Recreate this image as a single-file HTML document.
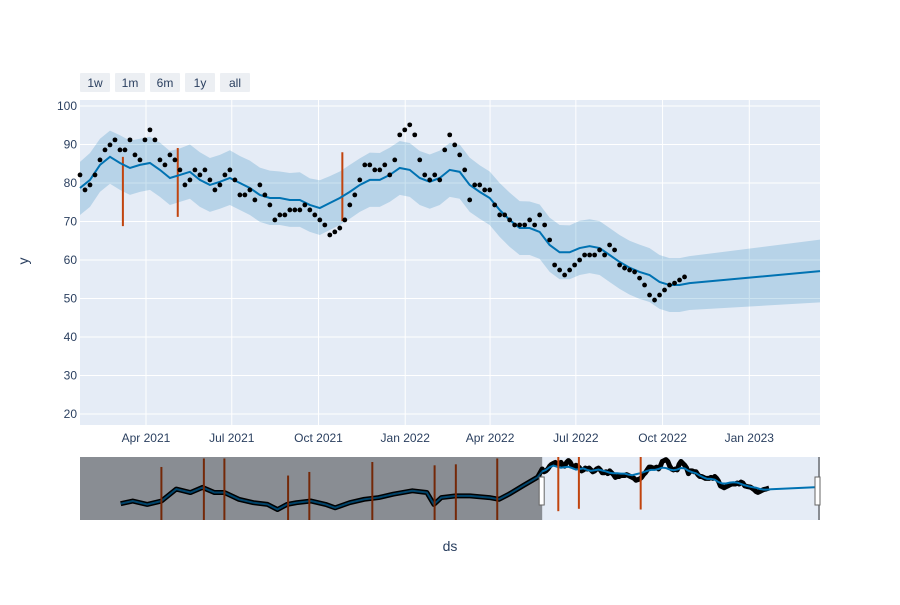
<!DOCTYPE html>
<html><head><meta charset="utf-8"><style>
body{margin:0;background:#fff;font-family:"Liberation Sans",sans-serif}
svg text{font-family:"Liberation Sans",sans-serif;fill:#2a3f5f}
</style></head><body>
<svg id="c" width="900" height="600" viewBox="0 0 900 600" xmlns="http://www.w3.org/2000/svg">
<rect x="80" y="100" width="740" height="325" fill="#E5ECF6"/>
<g id="grid"></g>
<g id="band"></g>
<g id="cps"></g>
<g id="trend"></g>
<g id="obs"></g>
<g id="yticks"></g>
<g id="xticks"></g>
<text x="28" y="261" font-size="14" text-anchor="middle" transform="rotate(-90 28 261)">y</text>
<text x="450" y="551" font-size="14" text-anchor="middle">ds</text>
<g id="buttons"></g>
<g id="slider">
<rect x="80" y="457" width="740" height="63" fill="#E5ECF6"/>
</g>
</svg>
<script>
const obsVals=[82.1,78.2,79.5,82.1,86,88.6,89.9,91.2,88.6,88.6,91.2,87.3,86,91.2,93.8,91.2,86,84.7,87.3,86,83.4,79.5,80.8,83.4,82.1,83.4,80.8,78.2,79.5,82.1,83.4,80.8,76.9,76.9,78.2,75.6,79.5,76.9,74.3,70.4,71.7,71.7,73,73,73,74.3,73,71.7,70.4,69.1,66.5,67.3,68.3,70.4,74.3,76.9,80.8,84.7,84.7,83.4,83.4,84.7,82.1,86,92.5,93.8,95.1,92.5,86,82.1,80.8,82.1,80.8,88.6,92.5,89.9,87.3,83.4,75.6,79.5,79.5,78.2,78.2,74.3,71.7,71.7,70.4,69.1,69.1,69.1,70.4,69.1,71.7,69.1,65.2,58.7,57.4,56.1,57.4,58.7,60,61.3,61.3,61.3,62.6,61.3,63.9,62.6,58.7,57.9,57.4,56.9,55.3,53.5,50.9,49.6,50.9,52.2,53.5,54,54.8,55.6];
const obsStepDays=5.3;
const trendVals=[78.7,80.8,84.7,86.8,85.2,83.9,84.7,85.2,83.4,81.3,82.1,82.9,80.8,79.5,80.3,81.3,80,78.7,76.9,76.1,76.1,75.6,75.6,74.3,73.5,74.8,76.1,77.7,79.5,80.8,80.8,82.1,83.9,83.4,81.3,80.3,81.3,83.4,82.9,79.5,77.7,76.1,73,70.4,68.3,68.3,67.3,63.9,62,62,63.1,63.6,63.1,61.3,59.5,58,56.9,56.1,54.3,53.5,53.5,54];
const upperVals=[85.5,87.8,91.5,93.6,92.4,91,91.5,92,90.5,88.3,89,90,88,86.5,87.3,88.5,87,85.8,84,83.2,83,82.6,82.8,81.2,80.7,81.8,83,84.7,86.4,87.9,87.8,89.2,90.9,90.4,88.3,87.4,88.4,90.4,90,86.6,84.6,83,80,77.5,75.3,75.2,74.4,71,69.1,69,70.2,70.6,70.1,68.3,66.5,65,64,63.1,61.3,60.5,60.5,61];
const lowerVals=[71.7,73.8,77.7,79.8,78.2,76.9,77.7,78.2,76.4,74.3,75.1,75.9,73.8,72.5,73.3,74.3,73,71.7,69.9,69.1,69.1,68.6,68.6,67.3,66.5,67.8,69.1,70.7,72.5,73.8,73.8,75.1,76.9,76.4,74.3,73.3,74.3,76.4,75.9,72.5,70.7,69.1,66,63.4,61.3,61.3,60.3,56.9,55,55,56.1,56.6,56.1,54.3,52.5,51,49.9,49.1,47.3,46.5,46.5,47];
const trendStepDays=10.6;
const fcEndDay=785, fcEndVal=57.1, fcEndUpper=65.3, fcEndLower=49;
const cpDays=[45.5,103.7,278.3];
const cpHigh=[86.8,89.1,88];
const cpLow=[68.8,71.2,70.1];
const histDays=[-1191,-1157,-1116,-1076,-1034,-994,-960,-926,-898,-857,-816,-776,-748,-721,-694,-653,-612,-585,-544,-503,-462,-421,-367,-326,-306,-285,-244,-204,-149,-122,-94,-54,-13];
const histVals=[33.9,37.6,32.9,37.6,54.2,49.4,56.5,49.4,49.4,40,35.3,32.9,25.8,32.9,35.3,37.6,32.9,28.2,35.3,40,42.4,47.1,51.8,49.4,32.9,42.4,44.7,44.7,42.4,40,47.1,58.9,70.7];
const slCpDays=[-1076,-956,-898,-718,-658,-480,-304,-244,-127,45.5,103.7,278.3];
const slCpHigh=[84.9,96.7,96.7,73,78,91.8,87.2,88.6,96.7,99,99,99];
const slCpLow=[10,10,10,10,10,10,10,10,10,23.5,26.8,25.8];
const yTicks=[20,30,40,50,60,70,80,90,100];
const xTickDays=[70,161,253,345,435,526,618,710];
const xTickLabels=["Apr 2021","Jul 2021","Oct 2021","Jan 2022","Apr 2022","Jul 2022","Oct 2022","Jan 2023"];
const btnLabels=["1w","1m","6m","1y","all"];

const NS="http://www.w3.org/2000/svg";
function mk(t,a,p){const e=document.createElementNS(NS,t);for(const k in a)e.setAttribute(k,a[k]);p.appendChild(e);return e;}
const X=d=>80+d*740/785, Y=v=>106+(100-v)*3.85;
const SX=d=>80+(d+1306)*740/2091, SY=v=>Math.max(457,Math.min(520,470.5-(v-80)*0.72));
const G=id=>document.getElementById(id);

yTicks.forEach(t=>{
 const l=mk('line',{x1:80,x2:820,y1:Y(t),y2:Y(t),stroke:'#fff','stroke-width':1},G('grid'));
 
 
 const tx=mk('text',{x:77,y:Y(t)+4,'font-size':12,'text-anchor':'end'},G('yticks'));tx.textContent=t;
 
 
});
xTickDays.forEach((d,i)=>{
 const l=mk('line',{x1:X(d),x2:X(d),y1:100,y2:425,stroke:'#fff','stroke-width':1},G('grid'));
 
 
 const tx=mk('text',{x:X(d),y:442,'font-size':12,'text-anchor':'middle'},G('xticks'));tx.textContent=xTickLabels[i];
 
 
});
// band
let up=upperVals.map((v,i)=>[X(i*trendStepDays),Y(v)]);up.push([X(fcEndDay),Y(fcEndUpper)]);
let lo=lowerVals.map((v,i)=>[X(i*trendStepDays),Y(v)]);lo.push([X(fcEndDay),Y(fcEndLower)]);
const poly=up.concat(lo.reverse()).map(p=>p.join(',')).join(' ');
const band=mk('polygon',{points:poly,fill:'rgba(0,114,178,0.2)'},G('band'));


cpDays.forEach((d,i)=>{
 const l=mk('line',{x1:X(d),x2:X(d),y1:Y(cpHigh[i]),y2:Y(cpLow[i]),stroke:'#c1440e','stroke-width':2},G('cps'));
 
 
});
let tp=trendVals.map((v,i)=>X(i*trendStepDays)+','+Y(v));tp.push(X(fcEndDay)+','+Y(fcEndVal));
const tl=mk('polyline',{points:tp.join(' '),fill:'none',stroke:'#0072B2','stroke-width':2},G('trend'));


obsVals.forEach((v,i)=>{
 const c=mk('circle',{cx:X(i*obsStepDays),cy:Y(v),r:2.4,fill:'#000'},G('obs'));
 
 
});
// buttons
btnLabels.forEach((b,i)=>{
 const g=mk('g',{},G('buttons'));
 
 
 mk('rect',{x:80+i*35,y:73,width:30,height:19,fill:'#eceff3',rx:1},g);
 const t=mk('text',{x:95+i*35,y:87,'font-size':12,'text-anchor':'middle'},g);t.textContent=b;
});
// slider
const S=G('slider');
const hb=histVals.map((v,i)=>[SX(histDays[i]),SY(v)]);
const sObs=obsVals.map((v,i)=>[SX(i*obsStepDays),SY(v)]);
const sp=hb.concat(sObs).map(p=>p.join(',')).join(' ');
const sl=mk('polyline',{points:sp,fill:'none',stroke:'#000','stroke-width':5,'stroke-linejoin':'round'},S);


let st=histVals.map((v,i)=>SX(histDays[i])+','+SY(v));
st=st.concat(trendVals.map((v,i)=>SX(i*trendStepDays)+','+SY(v)));st.push(SX(fcEndDay)+','+SY(fcEndVal));
const stl=mk('polyline',{points:st.join(' '),fill:'none',stroke:'#0072B2','stroke-width':2},S);


slCpDays.forEach((d,i)=>{
 const l=mk('line',{x1:SX(d),x2:SX(d),y1:SY(slCpHigh[i]),y2:SY(slCpLow[i]),stroke:'#c1440e','stroke-width':2},S);
 
 
});
const mask=mk('rect',{x:80,y:457,width:SX(0)-80,height:63,fill:'rgba(0,0,0,0.4)'},S);


mk('rect',{x:818,y:457,width:2,height:63,fill:'rgba(0,0,0,0.4)'},S);
[SX(0),818].forEach(x=>{
 const h=mk('rect',{x:x-3,y:477,width:5,height:28,fill:'#fff',stroke:'#666','stroke-width':1},S);
 
 
});
</script>
</body></html>
